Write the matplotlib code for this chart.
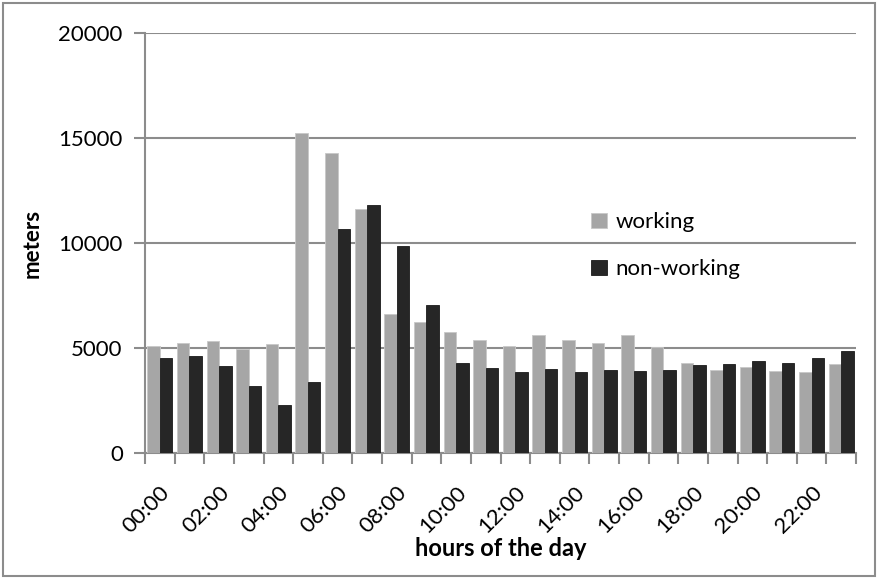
#--------------------- LIBRARIES ---------------------#

import numpy as np
import matplotlib.pyplot as plt
from matplotlib.patches import Rectangle

#-----------------------------------------------------#

hours = [f"{h:02d}:00" for h in range(24)]

working = [5080, 5220, 5350, 4940, 5180, 15240, 14270, 11640, 6640, 6240,
           5780, 5380, 5090, 5640, 5400, 5240, 5640, 5060, 4300, 3960,
           4090, 3910, 3870, 4250]

non_working = [4510, 4600, 4130, 3180, 2290, 3400, 10650, 11810, 9840, 7030,
               4290, 4050, 3850, 4010, 3870, 3950, 3910, 3960, 4200, 4230,
               4380, 4280, 4540, 4840]

y_ticks = [0, 5000, 10000, 15000, 20000]

#-----------------------------------------------------#

plt.rcParams['font.family'] = ['Lato', 'DejaVu Sans']

fig = plt.figure(figsize=(8.77, 5.79), dpi=100)
ax = fig.add_axes([145 / 877, 1 - 453 / 579, (856 - 145) / 877, (453 - 33) / 579])

x = np.arange(len(hours))
w = 0.42

# Barre delle due serie
ax.bar(x - w / 2, working, width=w, color='#a6a6a6', edgecolor='#c8c8c8',
       linewidth=0.6, label='working', zorder=3)
ax.bar(x + w / 2, non_working, width=w, color='#262626', edgecolor='#1a1a1a',
       linewidth=0.6, label='non-working', zorder=3)

ax.set_xlim(-0.5, len(hours) - 0.5)
ax.set_ylim(0, 20000)

# Griglia orizzontale grigia
ax.set_yticks(y_ticks)
ax.yaxis.grid(True, color='#8c8c8c', linewidth=1.5, zorder=0)
ax.set_axisbelow(True)

# Tick tra le categorie, etichette ogni due ore
ax.set_xticks(x[::2])
ax.set_xticklabels(hours[::2], rotation=45, ha='right', va='top',
                   rotation_mode='anchor', fontsize=16)
ax.set_xticks(np.arange(-0.5, len(hours)), minor=True)
ax.tick_params(axis='x', which='major', length=0, pad=21)
ax.tick_params(axis='x', which='minor', length=8, width=1.5, color='#8c8c8c', direction='out')
ax.tick_params(axis='y', length=8, width=1.5, color='#8c8c8c', labelsize=16, pad=8)

for side in ['top', 'right']:
    ax.spines[side].set_visible(False)
for side in ['left', 'bottom']:
    ax.spines[side].set_color('#8c8c8c')
    ax.spines[side].set_linewidth(1.5)

ax.set_ylabel('meters', fontsize=16, fontweight='bold')
ax.set_xlabel('hours of the day', fontsize=17, fontweight='bold')
ax.yaxis.set_label_coords(-102 / 711, 0.5)
ax.xaxis.set_label_coords(0.5, -(549 - 453) / 420)
ax.xaxis.label.set_va('center')

leg = ax.legend(loc='upper left', bbox_to_anchor=(0.615, 0.594), frameon=False,
                fontsize=16, handlelength=0.7, handleheight=0.7, handletextpad=0.4,
                labelspacing=1.2, borderaxespad=0)

# Cornice esterna del grafico
fig.patches.append(Rectangle((3 / 877, 3 / 579), 872 / 877, 573 / 579,
                             transform=fig.transFigure, fill=False,
                             edgecolor='#8c8c8c', linewidth=1.5))

plt.savefig('out.png', dpi=100)
plt.close(fig)
